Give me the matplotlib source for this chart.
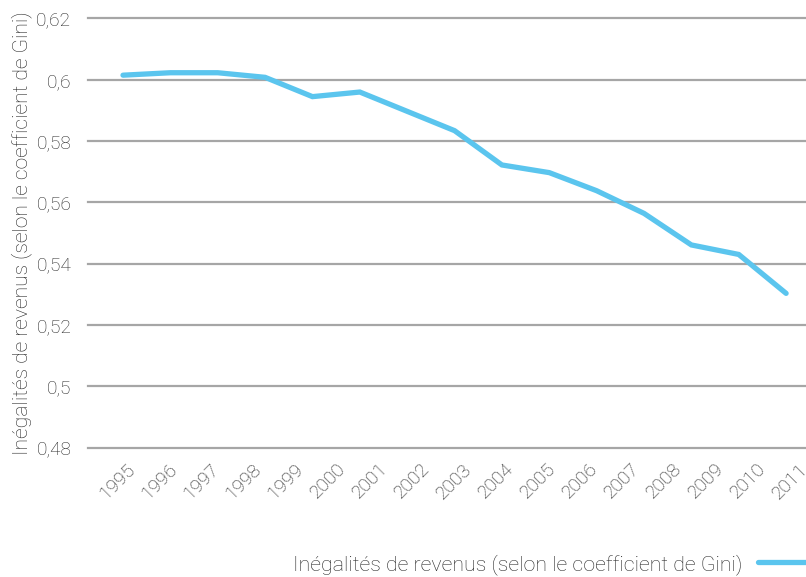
import numpy as np
import matplotlib
matplotlib.use('Agg')
import matplotlib.pyplot as plt
from matplotlib.ticker import FuncFormatter

# Gini values as drawn (15 points spread over the plot)
gini = [0.6015, 0.6023, 0.6023, 0.6008, 0.5945, 0.5960, 0.5897, 0.5834,
        0.5722, 0.5697, 0.5638, 0.5564, 0.5461, 0.5430, 0.5303]
years = [str(y) for y in range(1995, 2012)]
yticks = [0.48, 0.50, 0.52, 0.54, 0.56, 0.58, 0.60, 0.62]
label = 'Inégalités de revenus (selon le coefficient de Gini)'

plt.rcParams['font.family'] = ['Roboto', 'DejaVu Sans']
plt.rcParams['font.weight'] = 'light'
plt.rcParams['axes.labelweight'] = 'light'
text_color = '#262626'

fig = plt.figure(figsize=(8.06, 5.77), dpi=100)
ax = fig.add_axes([88 / 806, 1 - 447.5 / 577, 1 - 88 / 806, (447.5 - 18.5) / 577])

x = np.arange(len(gini))
ax.plot(x, gini, color='#5bc5ee', linewidth=3.8, solid_capstyle='round',
        solid_joinstyle='miter', label=label, zorder=3)

ax.set_xlim(-0.739, 14.42)
ax.set_ylim(0.48, 0.62)
ax.set_yticks(yticks)
ax.yaxis.set_major_formatter(FuncFormatter(lambda v, p: ('%g' % round(v, 2)).replace('.', ',')))
ax.grid(axis='y', color='#a6a6a6', linewidth=1.6)
for gl in ax.get_ygridlines():
    gl.set_clip_on(False)

ax.set_xticks(np.linspace(0.063, 14.27, len(years)))
ax.set_xticklabels(years, rotation=45, ha='right', va='top', rotation_mode='anchor')

for s in ax.spines.values():
    s.set_visible(False)
ax.tick_params(axis='both', length=0, labelsize=13.8, colors=text_color)
ax.tick_params(axis='x', pad=9)
ax.tick_params(axis='y', pad=12)

ax.set_ylabel(label, fontsize=15.2, color=text_color, labelpad=3)

leg = ax.legend(loc='center right', bbox_to_anchor=(1.0 + 10 / 718, -0.272), markerfirst=False,
                frameon=False, fontsize=15.4, handlelength=2.3, handletextpad=0.75,
                borderaxespad=0)
for t in leg.get_texts():
    t.set_color(text_color)

fig.savefig('out.png', dpi=100)
